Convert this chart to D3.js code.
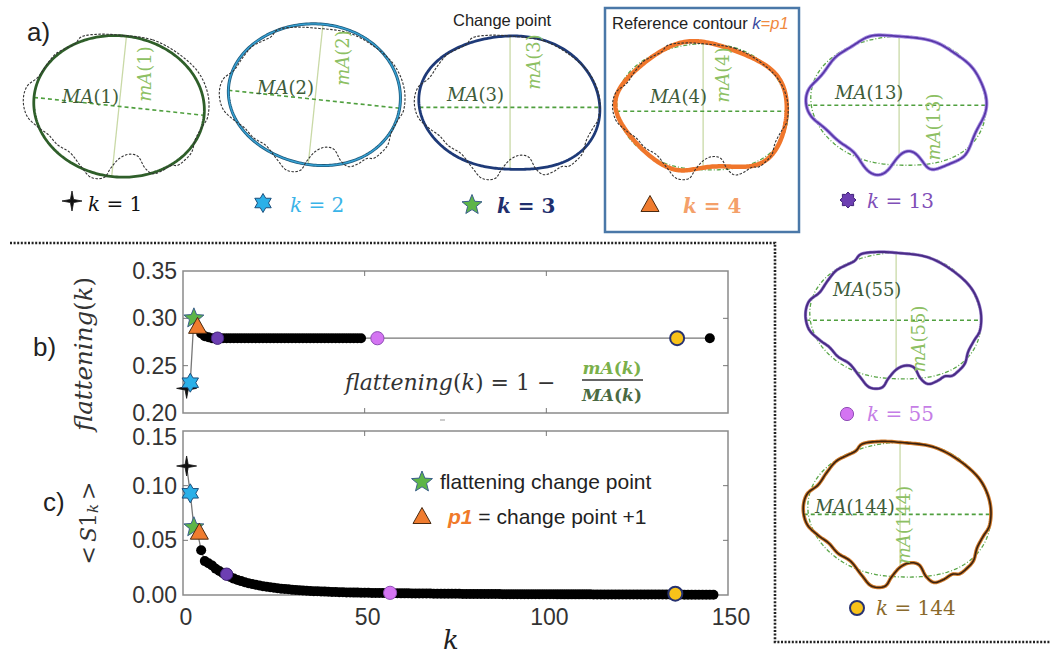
<!DOCTYPE html>
<html>
<head>
<meta charset="utf-8">
<script src="https://cdn.jsdelivr.net/npm/d3@7"></script>
<style>
  body { margin: 0; background: #fff; }
  svg { display: block; }
  .sans { font-family: "Liberation Sans", Arial, sans-serif; }
  .math { font-family: "DejaVu Serif", serif; font-style: italic; }
  .up { font-style: normal; }
</style>
</head>
<body>
<svg id="fig" width="1050" height="656"></svg>
<script>
// ---- data ----

// outline of the original contour (unit = half width, y down)
const outline = [
  [0.00, -0.74], [0.35, -0.69], [0.63, -0.54], [0.85, -0.33], [0.95, -0.08], [0.94, 0.15],
  [0.88, 0.25], [0.81, 0.38], [0.77, 0.52], [0.70, 0.60], [0.62, 0.66], [0.55, 0.66],
  [0.45, 0.72], [0.35, 0.75], [0.27, 0.69], [0.19, 0.56], [0.10, 0.54], [0.00, 0.58],
  [-0.10, 0.69], [-0.17, 0.79], [-0.31, 0.79], [-0.42, 0.67], [-0.54, 0.52], [-0.67, 0.44],
  [-0.77, 0.33], [-0.88, 0.25], [-1.00, 0.13], [-1.04, -0.04], [-1.00, -0.19], [-0.88, -0.29],
  [-0.79, -0.42], [-0.69, -0.54], [-0.58, -0.60], [-0.48, -0.65], [-0.42, -0.72], [-0.23, -0.75]
];

// harmonics shown in the contour panels
const panelK = [1, 2, 3, 4, 13, 55, 144];

// panel b: flattening(k)
const flatK = [
  1, 2, 3, 4, 5, 6, 7, 8, 9, 10, 11, 12, 13, 14, 15, 16, 17, 18, 19, 20, 21, 22, 23, 24, 25,
  26, 27, 28, 29, 30, 31, 32, 33, 34, 35, 36, 37, 38, 39, 40, 41, 42, 43, 44, 45, 46, 47, 48, 49,
  53.5, 136, 145
];
const flatValues = [
  0.226, 0.232, 0.300, 0.291, 0.284, 0.281, 0.280, 0.279, 0.279, 0.279, 0.279, 0.279, 0.279,
  0.279, 0.279, 0.279, 0.279, 0.279, 0.279, 0.279, 0.279, 0.279, 0.279, 0.279, 0.279, 0.279,
  0.279, 0.279, 0.279, 0.279, 0.279, 0.279, 0.279, 0.279, 0.279, 0.279, 0.279, 0.279, 0.279,
  0.279, 0.279, 0.279, 0.279, 0.279, 0.279, 0.279, 0.279, 0.279, 0.279,
  0.279, 0.279, 0.279
];
const flatMarkK = [1, 2, 3, 4, 9.5, 53.5, 136];
const flatMarkV = [0.226, 0.232, 0.300, 0.291, 0.279, 0.279, 0.279];

// panel c: <S1_k>, k = 1..146
const s1Values = [
  0.118, 0.093, 0.062, 0.057, 0.041, 0.031, 0.029, 0.027, 0.024, 0.022,
  0.020, 0.018, 0.0165, 0.015, 0.0138, 0.0127, 0.0117, 0.0108, 0.0100, 0.0093,
  0.0087, 0.0081, 0.0076, 0.0071, 0.0066, 0.0062, 0.0058, 0.0055, 0.0052, 0.0049,
  0.0046, 0.0044, 0.0041, 0.0039, 0.0037, 0.0035, 0.0034, 0.0032, 0.0031, 0.0029,
  0.0028, 0.0027, 0.0026, 0.0025, 0.0024, 0.0023, 0.0022, 0.0022, 0.0021, 0.0020,
  0.0020, 0.0019, 0.0019, 0.0018, 0.0018, 0.0017, 0.0017, 0.0016, 0.0016, 0.0015,
  0.0015, 0.0015, 0.0014, 0.0014, 0.0014, 0.0013, 0.0013, 0.0013, 0.0012, 0.0012,
  0.0012, 0.0012, 0.0011, 0.0011, 0.0011, 0.0011, 0.0010, 0.0010, 0.0010, 0.0010,
  0.0010, 0.0009, 0.0009, 0.0009, 0.0009, 0.0009, 0.0009, 0.0008, 0.0008, 0.0008,
  0.0008, 0.0008, 0.0008, 0.0008, 0.0007, 0.0007, 0.0007, 0.0007, 0.0007, 0.0007,
  0.0007, 0.0007, 0.0006, 0.0006, 0.0006, 0.0006, 0.0006, 0.0006, 0.0006, 0.0006,
  0.0006, 0.0006, 0.0005, 0.0005, 0.0005, 0.0005, 0.0005, 0.0005, 0.0005, 0.0005,
  0.0005, 0.0005, 0.0005, 0.0005, 0.0004, 0.0004, 0.0004, 0.0004, 0.0004, 0.0004,
  0.0004, 0.0004, 0.0004, 0.0004, 0.0004, 0.0004, 0.0004, 0.0003, 0.0003, 0.0003,
  0.0003, 0.0003, 0.0003, 0.0003, 0.0003, 0.0003
];
const s1K = s1Values.map((v, i) => i + 1);
const s1MarkK = [1, 2, 3, 4.5, 12, 57, 135.5];
const s1MarkV = [0.118, 0.093, 0.062, 0.057, 0.019, 0.002, 0.0012];

const xTicks = [0, 50, 100, 150];
const flatTicks = [0.20, 0.25, 0.30, 0.35];
const s1Ticks = [0.00, 0.05, 0.10, 0.15];

// ---- drawing ----
const svg = d3.select("#fig");

function star(n, R, r) {
  const pts = [];
  for (let i = 0; i < 2 * n; i++) {
    const a = -Math.PI / 2 + i * Math.PI / n;
    const rr = i % 2 ? r : R;
    pts.push([rr * Math.cos(a), rr * Math.sin(a)]);
  }
  return "M" + pts.join("L") + "Z";
}
function circ(r) { return `M${r},0A${r},${r} 0 1,1 ${-r},0A${r},${r} 0 1,1 ${r},0Z`; }

const markerStyle = {
  1:   { d: star(4, 10, 2.2), fill: "#111", stroke: "#111", sw: 0.8 },
  2:   { d: star(6, 9.5, 5.5), fill: "#2bb0e8", stroke: "#1d4f7c", sw: 1 },
  3:   { d: star(5, 10.5, 4.6), fill: "#5db548", stroke: "#3b5f8c", sw: 1 },
  4:   { d: "M0,-9.5L9,6.5L-9,6.5Z", fill: "#f07c2f", stroke: "#4a2a10", sw: 1 },
  13:  { d: circ(6.2), fill: "#6d3fb2", stroke: "#41237a", sw: 1 },
  55:  { d: circ(6.6), fill: "#d474f2", stroke: "#8f4fb6", sw: 1 },
  144: { d: circ(7), fill: "#f8c21a", stroke: "#273270", sw: 2 }
};

// resample the outline uniformly along a smooth closed curve
const N = 256;
const tmp = svg.append("path")
  .attr("d", d3.line().curve(d3.curveCatmullRomClosed)(outline.map(p => [p[0] * 100, p[1] * 100])));
const L = tmp.node().getTotalLength();
const base = d3.range(N).map(i => {
  const p = tmp.node().getPointAtLength(L * i / N);
  return [p.x / 100, p.y / 100];
});
tmp.remove();

// complex Fourier coefficients of the contour
const coef = new Map();
for (let n = -N / 2 + 1; n < N / 2; n++) {
  let re = 0, im = 0;
  base.forEach(([x, y], j) => {
    const a = -2 * Math.PI * n * j / N;
    re += x * Math.cos(a) - y * Math.sin(a);
    im += x * Math.sin(a) + y * Math.cos(a);
  });
  coef.set(n, [re / N, im / N]);
}
function rebuild(k) {
  k = Math.min(k, N / 2 - 1);
  return d3.range(N).map(j => {
    let x = 0, y = 0;
    for (let n = -k; n <= k; n++) {
      const [re, im] = coef.get(n);
      const a = 2 * Math.PI * n * j / N;
      x += re * Math.cos(a) - im * Math.sin(a);
      y += re * Math.sin(a) + im * Math.cos(a);
    }
    return [x, y];
  });
}

function hits(poly, p0, dir) {
  const ts = [];
  for (let i = 0; i < poly.length; i++) {
    const a = poly[i], b = poly[(i + 1) % poly.length];
    const ex = b[0] - a[0], ey = b[1] - a[1];
    const den = dir[0] * ey - dir[1] * ex;
    if (Math.abs(den) < 1e-9) continue;
    const wx = a[0] - p0[0], wy = a[1] - p0[1];
    const t = (wx * ey - wy * ex) / den;
    const u = (wx * dir[1] - wy * dir[0]) / den;
    if (u >= 0 && u < 1) ts.push(t);
  }
  return d3.extent(ts);
}

// panel layout (positions only)
const panels = [
  { cx: 120, cy: 104, s: 93, tilt: 6, orig: true, ma: [62, 103], mi: [144, 74] },
  { cx: 316, cy: 97, s: 93, tilt: 6, orig: true, ma: [257, 94], mi: [342, 58] },
  { cx: 511, cy: 105, s: 93, tilt: 0, orig: true, ma: [447, 101], mi: [533, 62] },
  { cx: 704, cy: 109, s: 88, tilt: 0, orig: true, ellipse: true, ma: [650, 103], mi: [722, 75] },
  { cx: 900, cy: 103, s: 90, tilt: 0, ellipse: true, ma: [835, 99], mi: [933, 127] },
  { cx: 897, cy: 318, s: 88, tilt: 0, ellipse: true, ma: [833, 296], mi: [918, 339] },
  { cx: 901, cy: 512, s: 94, tilt: 0, ellipse: true, ma: [815, 513], mi: [903, 525] }
];
const contourStyle = {
  1:   [{ c: "#2f5f2a", w: 2.8 }],
  2:   [{ c: "#1f5a7c", w: 3 }, { c: "#36a2d4", w: 1.4 }],
  3:   [{ c: "#1e3a78", w: 2.8 }],
  4:   [{ c: "#f0762b", w: 4.5 }],
  13:  [{ c: "#a790e2", w: 3.6 }, { c: "#5836a8", w: 1.8 }],
  55:  [{ c: "#9a80cc", w: 3.2 }, { c: "#4a2c86", w: 2 }],
  144: [{ c: "#d07a2a", w: 3.6 }, { c: "#3a2210", w: 1.6 }]
};
const labelColor = { 1: "#111", 2: "#3ab4e8", 3: "#1f2f6e", 4: "#f4a06a", 13: "#7f4fb8", 55: "#c57ee6", 144: "#8a6a2c" };
const kLabels = [
  { m: [72, 201], t: [88, 211] }, { m: [263, 203], t: [290, 212] }, { m: [472, 205], t: [497, 213] },
  { m: [650, 205], t: [683, 213] }, { m: [848, 200], t: [867, 208] }, { m: [847, 414], t: [867, 421] },
  { m: [857, 608], t: [876, 615] }
];

const closed = d3.line().curve(d3.curveLinearClosed);
const ellipse3 = rebuild(3);

panelK.forEach((k, i) => {
  const P = panels[i];
  const toPage = pts => pts.map(p => [P.cx + P.s * p[0], P.cy + P.s * p[1]]);
  const fit = toPage(rebuild(k));
  const c0 = coef.get(0);
  const p0 = [P.cx + P.s * c0[0], P.cy + P.s * c0[1]];
  const g = svg.append("g");
  const t = P.tilt * Math.PI / 180;
  const u = [Math.cos(t), Math.sin(t)], v = [-Math.sin(t), Math.cos(t)];
  const [v0, v1] = hits(fit, p0, v);
  g.append("line")
    .attr("x1", p0[0] + v[0] * v0).attr("y1", p0[1] + v[1] * v0)
    .attr("x2", p0[0] + v[0] * v1).attr("y2", p0[1] + v[1] * v1)
    .attr("stroke", "#c9d9a6").attr("stroke-width", 1.3);
  const [u0, u1] = hits(fit, p0, u);
  g.append("line")
    .attr("x1", p0[0] + u[0] * u0).attr("y1", p0[1] + u[1] * u0)
    .attr("x2", p0[0] + u[0] * u1).attr("y2", p0[1] + u[1] * u1)
    .attr("stroke", "#4f9f3e").attr("stroke-width", 1.6).attr("stroke-dasharray", "4,3");
  if (P.ellipse) {
    g.append("path").attr("d", closed(toPage(ellipse3)))
      .attr("fill", "none").attr("stroke", "#5aa648").attr("stroke-width", 1.3)
      .attr("stroke-dasharray", "4,2,1,2");
  }
  contourStyle[k].forEach(st => {
    g.append("path").attr("d", closed(fit))
      .attr("fill", "none").attr("stroke", st.c).attr("stroke-width", st.w)
      .attr("stroke-linejoin", "round");
  });
  if (P.orig) {
    g.append("path").attr("d", closed(toPage(base)))
      .attr("fill", "none").attr("stroke", "#333").attr("stroke-width", 1.1)
      .attr("stroke-dasharray", "2.5,1.5");
  }
  // axis labels
  const ma = g.append("text").attr("class", "math").attr("x", P.ma[0]).attr("y", P.ma[1])
    .attr("font-size", 18).attr("fill", "#3e5c3a");
  ma.append("tspan").text("MA");
  ma.append("tspan").attr("class", "up").text(`(${k})`);
  const mi = g.append("text").attr("class", "math")
    .attr("transform", `translate(${P.mi[0]},${P.mi[1]}) rotate(-90)`)
    .attr("text-anchor", "middle").attr("dominant-baseline", "central")
    .attr("font-size", 18).attr("fill", "#8dc063");
  mi.append("tspan").text("mA");
  mi.append("tspan").attr("class", "up").text(`(${k})`);
  // k label with marker
  const lab = kLabels[i];
  const ms = markerStyle[k];
  svg.append("path").attr("d", k === 13 ? star(8, 8, 6) : ms.d)
    .attr("transform", `translate(${lab.m[0]},${lab.m[1]})`)
    .attr("fill", ms.fill).attr("stroke", ms.stroke).attr("stroke-width", ms.sw);
  const kt = svg.append("text").attr("class", "math").attr("x", lab.t[0]).attr("y", lab.t[1])
    .attr("font-size", 20).attr("fill", labelColor[k])
    .attr("font-weight", (k === 3 || k === 4) ? "bold" : "normal");
  kt.append("tspan").text("k");
  kt.append("tspan").attr("class", "up").text(` = ${k}`);
});

// panel titles
svg.append("text").attr("class", "sans").attr("x", 27).attr("y", 41).attr("font-size", 26).attr("fill", "#222").text("a)");
svg.append("text").attr("class", "sans").attr("x", 453).attr("y", 26).attr("font-size", 16.5).attr("fill", "#222").text("Change point");
svg.append("rect").attr("x", 605).attr("y", 8).attr("width", 194).attr("height", 224)
  .attr("fill", "none").attr("stroke", "#4a78a8").attr("stroke-width", 2.5);
const ref = svg.append("text").attr("class", "sans").attr("x", 612).attr("y", 29).attr("font-size", 16.5).attr("fill", "#222");
ref.append("tspan").text("Reference contour ");
ref.append("tspan").attr("fill", "#3a4aa0").attr("font-style", "italic").text("k");
ref.append("tspan").attr("fill", "#f08a40").attr("font-style", "italic").text("=p1");

// dotted separator
svg.append("path").attr("d", "M10,243H775V642H1050")
  .attr("fill", "none").attr("stroke", "#222").attr("stroke-width", 2.6).attr("stroke-dasharray", "2,1.6");

// ---- charts ----
const x = d3.scaleLinear().domain([0, 150]).range([183, 728]);
const yb = d3.scaleLinear().domain([0.20, 0.35]).range([413, 271]);
const yc = d3.scaleLinear().domain([0, 0.15]).range([595, 431]);

function frame(y, ticks) {
  const g = svg.append("g");
  const [y0, y1] = y.range();
  g.append("rect").attr("x", x(0)).attr("y", y1).attr("width", x(150) - x(0)).attr("height", y0 - y1)
    .attr("fill", "#fff").attr("stroke", "#8a8a8a").attr("stroke-width", 1.5);
  [50, 100].forEach(v => {
    g.append("line").attr("x1", x(v)).attr("x2", x(v)).attr("y1", y1).attr("y2", y1 + 5).attr("stroke", "#777");
    g.append("line").attr("x1", x(v)).attr("x2", x(v)).attr("y1", y0).attr("y2", y0 - 5).attr("stroke", "#777");
  });
  ticks.slice(1, -1).forEach(v => {
    g.append("line").attr("x1", x(0)).attr("x2", x(0) + 5).attr("y1", y(v)).attr("y2", y(v)).attr("stroke", "#777");
    g.append("line").attr("x1", x(150)).attr("x2", x(150) - 5).attr("y1", y(v)).attr("y2", y(v)).attr("stroke", "#777");
  });
  const ax = g.append("g").attr("transform", `translate(${x(0) - 6},0)`)
    .call(d3.axisLeft(y).tickValues(ticks).tickFormat(d3.format(".2f")).tickSize(0).tickPadding(0));
  ax.select(".domain").remove();
  ax.selectAll("text").attr("class", "sans").attr("font-size", 23).attr("fill", "#333")
    .attr("font-family", "Liberation Sans, Arial, sans-serif");
  return ax;
}

// panel b
frame(yb, flatTicks);
const lineB = d3.line().x((d, i) => x(flatK[i])).y(d => yb(d));
svg.append("path").attr("d", lineB(flatValues)).attr("fill", "none").attr("stroke", "#777").attr("stroke-width", 1.3);
svg.append("g").selectAll("circle").data(flatValues.slice(4)).join("circle")
  .attr("cx", (d, i) => x(flatK[i + 4])).attr("cy", d => yb(d)).attr("r", 5).attr("fill", "#000");

// panel c
const axC = frame(yc, s1Ticks);
axC.selectAll(".tick").filter(d => d === 0.15).select("text").attr("dy", "0.6em");
const lineC = d3.line().x((d, i) => x(s1K[i])).y(d => yc(d));
svg.append("path").attr("d", lineC(s1Values)).attr("fill", "none").attr("stroke", "#777").attr("stroke-width", 1.3);
svg.append("g").selectAll("circle").data(s1Values.slice(4)).join("circle")
  .attr("cx", (d, i) => x(s1K[i + 4])).attr("cy", d => yc(d)).attr("r", 5).attr("fill", "#000");

// coloured markers
function markers(ks, vs, y) {
  panelK.forEach((k, i) => {
    const ms = markerStyle[k];
    svg.append("path").attr("d", ms.d)
      .attr("transform", `translate(${x(ks[i])},${y(vs[i])})`)
      .attr("fill", ms.fill).attr("stroke", ms.stroke).attr("stroke-width", ms.sw);
  });
}
markers(flatMarkK, flatMarkV, yb);
markers(s1MarkK, s1MarkV, yc);

// x tick labels
svg.append("g").selectAll("text").data(xTicks).join("text")
  .attr("class", "sans").attr("x", d => x(d) + 3).attr("y", 625).attr("text-anchor", "middle")
  .attr("font-size", 23).attr("fill", "#333").text(d => d);
svg.append("line").attr("x1", 440).attr("x2", 445).attr("y1", 420).attr("y2", 420).attr("stroke", "#bbb").attr("stroke-width", 1.5);

// axis titles
svg.append("text").attr("class", "math").attr("x", 451).attr("y", 649).attr("text-anchor", "middle")
  .attr("font-size", 26).attr("fill", "#222").text("k");
const fl = svg.append("text").attr("class", "math").attr("transform", "translate(83,354) rotate(-90)")
  .attr("text-anchor", "middle").attr("dominant-baseline", "central").attr("font-size", 24.5).attr("fill", "#333");
fl.append("tspan").text("flattening");
fl.append("tspan").attr("class", "up").text("(");
fl.append("tspan").text("k");
fl.append("tspan").attr("class", "up").text(")");
const s1 = svg.append("text").attr("class", "math").attr("transform", "translate(88,523) rotate(-90)")
  .attr("text-anchor", "middle").attr("dominant-baseline", "central").attr("font-size", 22).attr("fill", "#333");
s1.append("tspan").attr("class", "up").text("<");
s1.append("tspan").attr("dx", 4).text("S");
s1.append("tspan").attr("class", "up").text("1");
s1.append("tspan").attr("font-size", 15).attr("dy", 5).text("k");
s1.append("tspan").attr("class", "up").attr("dy", -5).attr("dx", 4).text(">");
svg.append("text").attr("class", "sans").attr("x", 33).attr("y", 356).attr("font-size", 26).attr("fill", "#222").text("b)");
svg.append("text").attr("class", "sans").attr("x", 43).attr("y", 511).attr("font-size", 26).attr("fill", "#222").text("c)");

// formula in panel b
const fm = svg.append("text").attr("class", "math").attr("x", 345).attr("y", 390).attr("font-size", 22).attr("fill", "#333");
fm.append("tspan").text("flattening");
fm.append("tspan").attr("class", "up").text("(");
fm.append("tspan").text("k");
fm.append("tspan").attr("class", "up").text(") = 1 −");
const fx = 612;
const num = svg.append("text").attr("class", "math").attr("x", fx).attr("y", 374).attr("text-anchor", "middle")
  .attr("font-size", 17).attr("font-weight", "bold").attr("fill", "#7ab04a");
num.append("tspan").text("mA");
num.append("tspan").attr("class", "up").text("(");
num.append("tspan").text("k");
num.append("tspan").attr("class", "up").text(")");
svg.append("line").attr("x1", fx - 30).attr("x2", fx + 31).attr("y1", 380).attr("y2", 380).attr("stroke", "#333").attr("stroke-width", 1.4);
const den = svg.append("text").attr("class", "math").attr("x", fx).attr("y", 401).attr("text-anchor", "middle")
  .attr("font-size", 17).attr("font-weight", "bold").attr("fill", "#4a6a42");
den.append("tspan").text("MA");
den.append("tspan").attr("class", "up").text("(");
den.append("tspan").text("k");
den.append("tspan").attr("class", "up").text(")");

// legend in panel c
svg.append("path").attr("d", star(5, 11, 4.8)).attr("transform", "translate(422,482)")
  .attr("fill", "#5db548").attr("stroke", "#3b5f8c");
svg.append("text").attr("class", "sans").attr("x", 440).attr("y", 489).attr("font-size", 21).attr("fill", "#222")
  .text("flattening change point");
svg.append("path").attr("d", "M0,-9.5L9,6.5L-9,6.5Z").attr("transform", "translate(422,517)")
  .attr("fill", "#f07c2f").attr("stroke", "#4a2a10");
const lg = svg.append("text").attr("class", "sans").attr("x", 448).attr("y", 524).attr("font-size", 21).attr("fill", "#222");
lg.append("tspan").attr("fill", "#f07a2a").attr("font-weight", "bold").attr("font-style", "italic").text("p1");
lg.append("tspan").text(" = change point +1");
</script>
</body>
</html>
